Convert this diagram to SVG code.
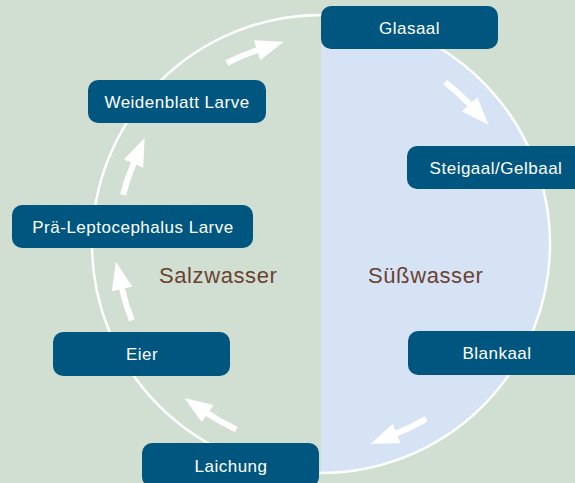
<svg xmlns="http://www.w3.org/2000/svg" width="575" height="483" viewBox="0 0 575 483">
  <defs>
    <style>
      .node rect { fill: #00567f; }
      .node text { fill: #ffffff; font-family: "Liberation Sans", Arial, sans-serif; font-size: 17px; letter-spacing: 0.5px; text-anchor: middle; }
      .zone { fill: #6b4232; font-family: "Liberation Sans", Arial, sans-serif; font-size: 22px; letter-spacing: 0.6px; }
      .arrow { fill: none; stroke: #ffffff; stroke-width: 6; marker-end: url(#head); }
    </style>
    <marker id="head" viewBox="0 -11 29 22" markerWidth="29" markerHeight="22" refX="1" refY="0" orient="auto" markerUnits="userSpaceOnUse">
      <path d="M0,-10.5 L28,0 L0,10.5 Z" fill="#ffffff"/>
    </marker>
  </defs>

  <rect x="0" y="0" width="575" height="483" fill="#d1dfd2"/>
  <path d="M321,15 A229,229 0 0 1 321,473 Z" fill="#d5e3f5"/>
  <circle cx="321" cy="244" r="229" fill="none" stroke="#ffffff" stroke-width="2.5"/>

  <text class="zone" x="159" y="283">Salzwasser</text>
  <text class="zone" x="368" y="283">Süßwasser</text>

  <g id="connectors">
    <path class="arrow" d="M445.2,82.1 A204,204 0 0 1 470.2,104.9"/>
    <path class="arrow" d="M426.1,418.9 A204,204 0 0 1 395.8,433.8"/>
    <path class="arrow" d="M236.4,429.6 A204,204 0 0 1 206.9,413.1"/>
    <path class="arrow" d="M131.9,320.4 A204,204 0 0 1 121.8,288.1"/>
    <path class="arrow" d="M123.1,194.7 A204,204 0 0 1 133.9,162.7"/>
    <path class="arrow" d="M226.8,63.0 A204,204 0 0 1 258.0,50.0"/>
  </g>

  <g id="glasaal" class="node">
    <rect x="321" y="6" width="177" height="43" rx="10"/>
    <text x="409.5" y="33.5">Glasaal</text>
  </g>
  <g id="steigaal" class="node">
    <rect x="407" y="146" width="178" height="43" rx="10"/>
    <text x="496" y="173.7">Steigaal/Gelbaal</text>
  </g>
  <g id="blankaal" class="node">
    <rect x="408" y="331" width="178" height="44" rx="10"/>
    <text x="497" y="359">Blankaal</text>
  </g>
  <g id="laichung" class="node">
    <rect x="142" y="443" width="177" height="44" rx="10"/>
    <text x="231" y="471.5">Laichung</text>
  </g>
  <g id="eier" class="node">
    <rect x="53" y="332" width="177" height="44" rx="10"/>
    <text x="142" y="360">Eier</text>
  </g>
  <g id="praelepto" class="node">
    <rect x="12" y="205" width="241" height="43" rx="10"/>
    <text x="133" y="232.5">Prä-Leptocephalus Larve</text>
  </g>
  <g id="weidenblatt" class="node">
    <rect x="88" y="80" width="178" height="43" rx="10"/>
    <text x="177" y="107.8">Weidenblatt Larve</text>
  </g>
</svg>
